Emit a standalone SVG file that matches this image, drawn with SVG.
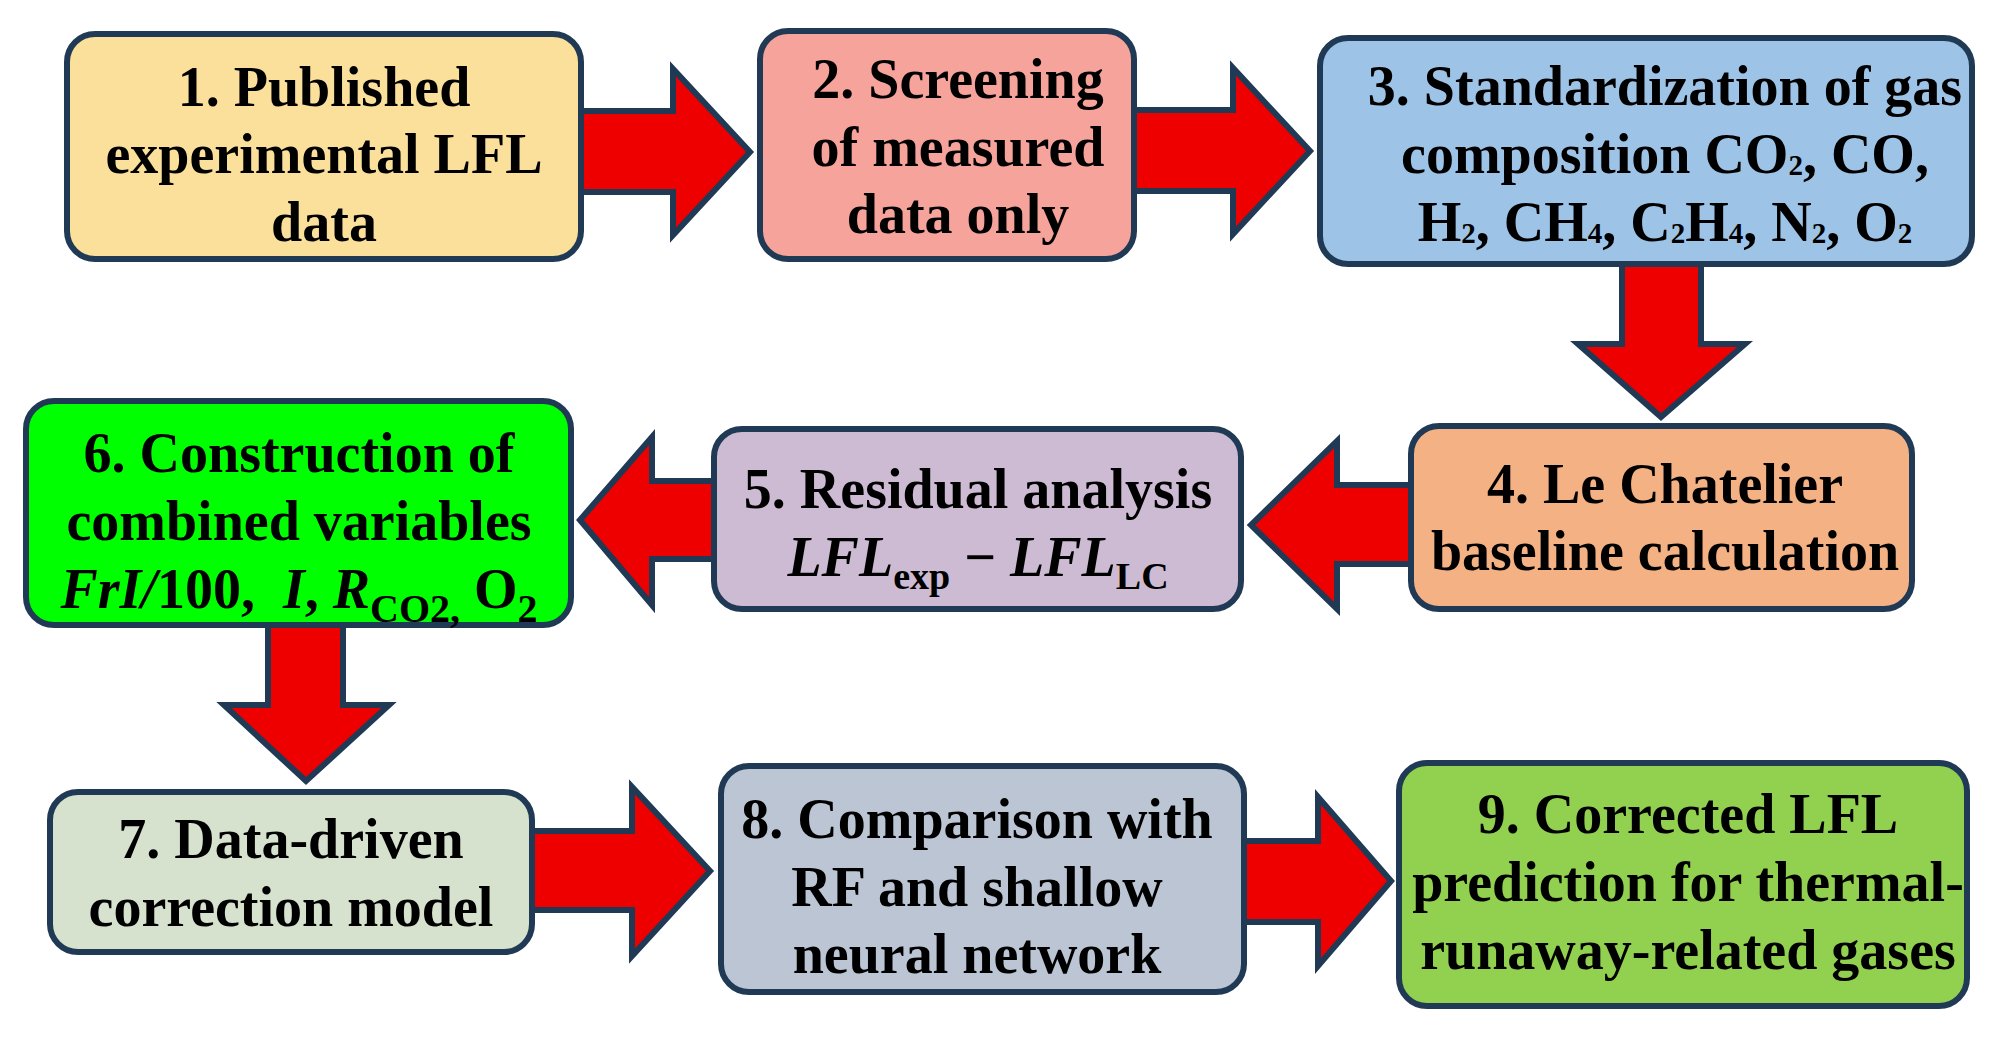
<svg xmlns="http://www.w3.org/2000/svg" width="1994" height="1037" viewBox="0 0 1994 1037">
<style>
.box{stroke:#203A55;stroke-width:6}
.arrow{fill:#EE0000;stroke:#203A55;stroke-width:6;stroke-linejoin:miter}
.t{font-family:"Liberation Serif","Times New Roman",serif;font-weight:bold;font-size:56px;fill:#000;text-anchor:middle}
.i{font-style:italic}
.s{font-size:38px}
.s6{font-size:40px}
.u{font-size:29px}
</style>
<rect width="1994" height="1037" fill="#FFFFFF"/>
<g id="connectors">
<path class="arrow" d="M560,111 H673 V69 L750,152 L673,235 V192 H560 Z"/>
<path class="arrow" d="M1120,110 H1233 V68 L1310,151 L1233,234 V191 H1120 Z"/>
<path class="arrow" d="M1622,250 V344 H1578 L1661,417 L1745,344 H1701 V250 Z"/>
<path class="arrow" d="M1420,485 H1337 V441 L1251,525 L1337,609 V564 H1420 Z"/>
<path class="arrow" d="M730,481 H652 V437 L580,520 L652,605 V559 H730 Z"/>
<path class="arrow" d="M268,610 V705 H224 L306,781 L389,705 H343 V610 Z"/>
<path class="arrow" d="M520,831 H632 V787 L710,871 L632,956 V910 H520 Z"/>
<path class="arrow" d="M1230,841 H1318 V797 L1391,881 L1318,966 V922 H1230 Z"/>
</g>
<g id="node1">
<rect class="box" x="67" y="34" width="514" height="225" rx="28" fill="#FAE09B"/>
<text class="t" x="324" y="106">1. Published</text>
<text class="t" x="324" y="173">experimental LFL</text>
<text class="t" x="324" y="241">data</text>
</g>
<g id="node2">
<rect class="box" x="760" y="31" width="374" height="228" rx="28" fill="#F5A39B"/>
<text class="t" x="958" y="98">2. Screening</text>
<text class="t" x="958" y="166">of measured</text>
<text class="t" x="958" y="233">data only</text>
</g>
<g id="node3">
<rect class="box" x="1320" y="38" width="652" height="226" rx="28" fill="#9DC3E6"/>
<text class="t" x="1665" y="105">3. Standardization of gas</text>
<text class="t" x="1665" y="173">composition CO<tspan class="u" dy="2">2</tspan><tspan dy="-2">, CO,</tspan></text>
<text class="t" x="1665" y="241">H<tspan class="u" dy="2">2</tspan><tspan dy="-2">, CH</tspan><tspan class="u" dy="2">4</tspan><tspan dy="-2">, C</tspan><tspan class="u" dy="2">2</tspan><tspan dy="-2">H</tspan><tspan class="u" dy="2">4</tspan><tspan dy="-2">, N</tspan><tspan class="u" dy="2">2</tspan><tspan dy="-2">, O</tspan><tspan class="u" dy="2">2</tspan></text>
</g>
<g id="node4">
<rect class="box" x="1411" y="426" width="501" height="183" rx="28" fill="#F4B183"/>
<text class="t" x="1665" y="503">4. Le Chatelier</text>
<text class="t" x="1665" y="570">baseline calculation</text>
</g>
<g id="node5">
<rect class="box" x="714" y="429" width="527" height="180" rx="28" fill="#CDBBD3"/>
<text class="t" x="978" y="508">5. Residual analysis</text>
<text class="t" x="978" y="576"><tspan class="i">LFL</tspan><tspan class="s" dy="13">exp</tspan><tspan dy="-13"> − </tspan><tspan class="i">LFL</tspan><tspan class="s" dy="13">LC</tspan></text>
</g>
<g id="node6">
<rect class="box" x="26" y="401" width="545" height="224" rx="28" fill="#00FF00"/>
<text class="t" x="299" y="472">6. Construction of</text>
<text class="t" x="299" y="540">combined variables</text>
<text class="t" x="299" y="608" xml:space="preserve"><tspan class="i">FrI/</tspan>100,  <tspan class="i">I</tspan>, <tspan class="i">R</tspan><tspan class="s6" dy="14">CO2,</tspan><tspan dy="-14"> O</tspan><tspan class="s6" dy="14">2</tspan></text>
</g>
<g id="node7">
<rect class="box" x="50" y="792" width="482" height="160" rx="28" fill="#D6E2CE"/>
<text class="t" x="291" y="858">7. Data-driven</text>
<text class="t" x="291" y="926">correction model</text>
</g>
<g id="node8">
<rect class="box" x="721" y="766" width="523" height="226" rx="28" fill="#BBC5D3"/>
<text class="t" x="977" y="838">8. Comparison with</text>
<text class="t" x="977" y="906">RF and shallow</text>
<text class="t" x="977" y="973">neural network</text>
</g>
<g id="node9">
<rect class="box" x="1399" y="763" width="568" height="243" rx="28" fill="#92D050"/>
<text class="t" x="1688" y="833">9. Corrected LFL</text>
<text class="t" x="1688" y="901">prediction for thermal-</text>
<text class="t" x="1688" y="969">runaway-related gases</text>
</g>
</svg>
